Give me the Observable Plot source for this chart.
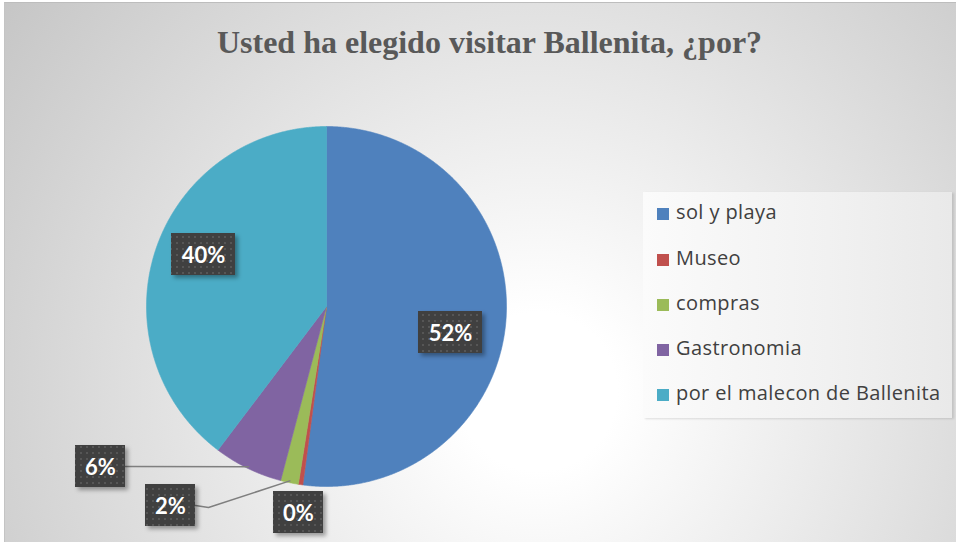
<!DOCTYPE html>
<html>
<head>
<meta charset="utf-8">
<script src="https://cdn.jsdelivr.net/npm/d3@7"></script>
<script src="https://cdn.jsdelivr.net/npm/@observablehq/plot@0.6"></script>
<style>
  html, body { margin: 0; padding: 0; background: #fff; }
  #wrap { position: relative; width: 958px; height: 542px; overflow: hidden; background: #fff; }
  #bg { position: absolute; left: 4px; top: 2px; width: 951px; height: 540px;
        border-top: 1px solid #bdbdbd; border-left: 1px solid #c4c4c4;
        background: radial-gradient(circle farthest-corner at 56% 72%, #ffffff 0%, #ffffff 12%, #c6c6c6 100%); }
  #chart { position: absolute; left: 0; top: 0; }
  #legend { position: absolute; left: 643px; top: 192px; width: 309px; height: 226px;
            background: linear-gradient(90deg, #fbfbfb 0%, #f1f1f1 60%, #e9e9e9 100%);
            box-shadow: 2px 1px 2px rgba(0,0,0,0.12);
            font-family: "Open Sans", "Noto Sans", sans-serif; font-size: 20px; letter-spacing: 0.4px; color: #404040; }
  .item { position: absolute; left: 14px; height: 20px; line-height: 20px; white-space: nowrap; }
  .sw { position: absolute; left: 0; top: 4px; width: 12px; height: 12px; }
  .lt { position: absolute; left: 19px; top: -2px; }
</style>
</head>
<body>
<svg width="0" height="0" style="position:absolute">
  <defs>
    <pattern id="dots" width="6" height="6" patternUnits="userSpaceOnUse">
      <rect width="6" height="6" fill="#3f3f3f"></rect>
      <rect x="2" y="2" width="2" height="2" fill="#575757"></rect>
    </pattern>
    <filter id="shadow" x="-20%" y="-20%" width="150%" height="160%">
      <feDropShadow dx="3" dy="3" stdDeviation="2" flood-color="#000" flood-opacity="0.35"></feDropShadow>
    </filter>
  </defs>
</svg>
<div id="wrap">
  <div id="bg"></div>
  <div id="chart"></div>
  <div id="legend"></div>
</div>
<script>
// ---- data ----
const categories = ["sol y playa", "Museo", "compras", "Gastronomia", "por el malecon de Ballenita"];
const values = [52.1, 0.4, 1.6, 6.2, 39.7];
const colors = ["#4f81bd", "#c0504d", "#9bbb59", "#8064a2", "#4bacc6"];
const titleText = "Usted ha elegido visitar Ballenita, ¿por?";

// ---- layout (pixels) ----
const W = 958, H = 542, CX = 326, CY = 306, R = 180;
// label centers relative to pie center, in pixels (x right, y down)
const labelOffsets = [[124, 26], [-28, 206], [-156, 199], [-226, 160], [-123, -52]];
const leaderKnee = [null, null, [-118, 201], null, null];

const total = d3.sum(values);
const pct = values.map(v => Math.round(v / total * 100) + "%");
const arcs = d3.pie().sort(null).value(d => d)(values);

// slice polygons in unit coordinates (y up)
const slices = arcs.map((a, i) => {
  const pts = [{x: 0, y: 0}];
  const n = Math.max(2, Math.ceil((a.endAngle - a.startAngle) / 0.005));
  for (let k = 0; k <= n; k++) {
    const t = a.startAngle + (a.endAngle - a.startAngle) * k / n;
    pts.push({x: Math.sin(t), y: Math.cos(t)});
  }
  pts.push({x: 0, y: 0});
  return pts;
});

const px = dx => dx / R;
const labels = categories.map((c, i) => {
  const [ox, oy] = labelOffsets[i];
  const hw = (pct[i].length >= 3 ? 32 : 25);
  return {name: c, text: pct[i], x: px(ox), y: px(-oy), x1: px(ox - hw), x2: px(ox + hw), y1: px(-oy - 21), y2: px(-oy + 21), hw};
});

// leader lines for small outside labels
const leaders = [];
[2, 3].forEach(i => {
  const a = arcs[i], mid = (a.startAngle + a.endAngle) / 2;
  const L = labels[i];
  const pts = [{x: L.x2, y: L.y}];
  if (leaderKnee[i]) pts.push({x: px(leaderKnee[i][0]), y: px(-leaderKnee[i][1])});
  pts.push({x: Math.sin(mid) * 0.99, y: Math.cos(mid) * 0.99});
  pts.forEach(p => leaders.push({...p, id: i}));
});

const plot = Plot.plot({
  width: W, height: H,
  margin: 0,
  style: {background: "transparent", overflow: "visible"},
  x: {domain: [-CX / R, (W - CX) / R], axis: null},
  y: {domain: [-(H - CY) / R, CY / R], axis: null},
  marks: [
    ...slices.map((s, i) => Plot.line(s, {x: "x", y: "y", fill: colors[i], stroke: colors[i], strokeWidth: 0.6, curve: "linear"})),
    Plot.line(leaders, {x: "x", y: "y", z: "id", stroke: "#7f7f7f", strokeWidth: 1.5}),
    Plot.rect(labels, {x1: "x1", x2: "x2", y1: "y1", y2: "y2", fill: "url(#dots)"}),
    Plot.text(labels, {x: "x", y: "y", text: "text", fill: "white", fontSize: 22, fontWeight: "bold", fontFamily: "Lato, 'Noto Sans', sans-serif", dy: 1}),
    Plot.text([titleText], {frameAnchor: "top", dx: 10, dy: 30, text: d => d, fontSize: 32, fontWeight: "bold", fontFamily: "'Liberation Serif', 'DejaVu Serif', serif", fill: "#595959"})
  ]
});
d3.select(plot).selectAll("g[aria-label=rect]").attr("filter", "url(#shadow)");
document.getElementById("chart").appendChild(plot);

// legend
const legendItemTops = [204, 250, 295, 340, 385];
const lg = document.getElementById("legend");
categories.forEach((c, i) => {
  const d = document.createElement("div");
  d.className = "item";
  d.style.top = (legendItemTops[i] - 192) + "px";
  d.innerHTML = `<span class="sw" style="background:${colors[i]}"></span><span class="lt"></span>`;
  d.querySelector(".lt").textContent = c;
  lg.appendChild(d);
});
</script>
</body>
</html>
